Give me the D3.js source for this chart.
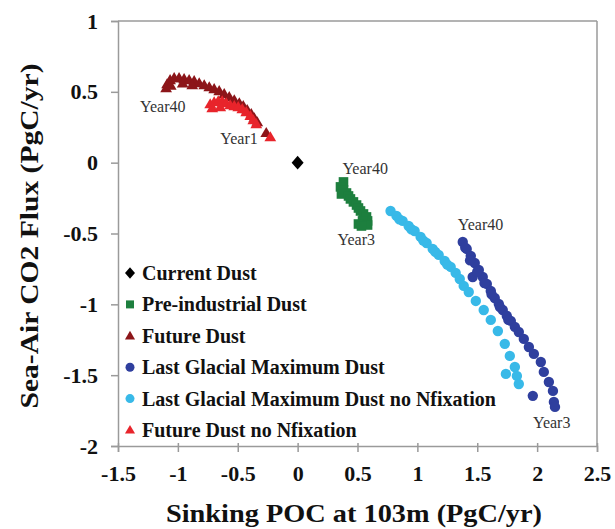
<!DOCTYPE html>
<html>
<head>
<meta charset="utf-8">
<script src="https://cdn.jsdelivr.net/npm/d3@7"></script>
<style>
  html, body { margin: 0; padding: 0; background: #fff; }
  svg { display: block; }
</style>
</head>
<body>
<svg id="chart" width="615" height="529"></svg>
<script>
// ---------------- DATA ----------------
const xTickValues = [-1.5, -1, -0.5, 0, 0.5, 1, 1.5, 2, 2.5];
const yTickValues = [-2, -1.5, -1, -0.5, 0, 0.5, 1];

const seriesNames = [
  "Current Dust",
  "Pre-industrial Dust",
  "Future Dust",
  "Last Glacial Maximum Dust",
  "Last Glacial Maximum Dust no Nfixation",
  "Future Dust no Nfixation"
];

// [Sinking POC, Sea-Air CO2 flux]
const currentDust = [[0, 0]];

const preindustrialDust = [
  [0.383, -0.136], [0.358, -0.171], [0.383, -0.193], [0.408, -0.214], [0.366, -0.221],
  [0.425, -0.235], [0.441, -0.256], [0.466, -0.277], [0.492, -0.299], [0.508, -0.320],
  [0.525, -0.341], [0.550, -0.362], [0.575, -0.383], [0.584, -0.411], [0.542, -0.411],
  [0.508, -0.433], [0.584, -0.440], [0.533, -0.447]
];

const futureDust = [
  [-1.098, 0.527], [-1.090, 0.555], [-1.065, 0.584], [-1.031, 0.598], [-0.990, 0.598],
  [-0.948, 0.591], [-0.906, 0.584], [-0.864, 0.577], [-0.822, 0.562], [-0.780, 0.548],
  [-0.738, 0.534], [-0.697, 0.520], [-0.655, 0.506], [-0.613, 0.485], [-0.571, 0.464],
  [-0.529, 0.442], [-0.487, 0.421], [-0.454, 0.400], [-0.421, 0.372], [-0.387, 0.344],
  [-0.362, 0.315], [-0.337, 0.287], [-0.262, 0.210], [-1.060, 0.545], [-0.960, 0.560],
  [-0.880, 0.548]
];

const lgmDust = [
  [1.379, -0.560], [1.412, -0.609], [1.446, -0.658], [1.479, -0.708], [1.513, -0.757],
  [1.546, -0.807], [1.580, -0.856], [1.613, -0.905], [1.646, -0.955], [1.680, -0.997],
  [1.713, -1.040], [1.747, -1.082], [1.780, -1.117], [1.814, -1.159], [1.847, -1.195],
  [1.889, -1.244], [1.931, -1.301], [1.973, -1.350], [2.031, -1.407], [2.056, -1.477],
  [2.098, -1.548], [2.132, -1.611], [2.140, -1.689], [2.149, -1.724], [1.964, -1.646],
  [1.462, -0.807], [1.400, -0.600], [1.440, -0.690], [1.500, -0.770], [1.560, -0.850],
  [1.620, -0.930], [1.690, -1.020], [1.760, -1.110]
];

const lgmDustNoNfix = [
  [0.776, -0.341], [0.826, -0.376], [0.877, -0.411], [0.927, -0.447], [0.977, -0.482],
  [1.027, -0.524], [1.077, -0.567], [1.128, -0.609], [1.178, -0.651], [1.228, -0.694],
  [1.278, -0.736], [1.320, -0.778], [1.354, -0.821], [1.387, -0.870], [1.429, -0.913],
  [1.488, -0.976], [1.554, -1.040], [1.613, -1.110], [1.672, -1.188], [1.730, -1.279],
  [1.772, -1.364], [1.814, -1.442], [1.739, -1.491], [1.831, -1.505], [1.847, -1.562],
  [0.850, -0.400], [0.950, -0.470], [1.050, -0.550], [1.150, -0.630], [1.250, -0.720]
];

const futureDustNoNfix = [
  [-0.730, 0.414], [-0.697, 0.428], [-0.663, 0.435], [-0.630, 0.435], [-0.596, 0.421],
  [-0.563, 0.407], [-0.529, 0.400], [-0.496, 0.393], [-0.462, 0.379], [-0.429, 0.358],
  [-0.395, 0.330], [-0.370, 0.301], [-0.345, 0.273], [-0.228, 0.181], [-0.713, 0.386],
  [-0.646, 0.393]
];

// Annotation labels: [text, x, y]
const yearLabels = [
  ["Year40", -1.316, 0.358],
  ["Year1", -0.646, 0.132],
  ["Year40", 0.374, -0.08],
  ["Year3", 0.333, -0.581],
  ["Year40", 1.337, -0.475],
  ["Year3", 1.965, -1.872]
];

// ---------------- STYLE ----------------
const seriesData = [currentDust, preindustrialDust, futureDust, lgmDust, lgmDustNoNfix, futureDustNoNfix];
const seriesColor = ["#000000", "#1d7f3e", "#8c1519", "#2f3f9e", "#38b9e8", "#e8242b"];
const seriesShape = ["diamond", "square", "triangle", "circle", "circle", "triangle"];

const svg = d3.select("#chart");
const x = d3.scaleLinear().domain([-1.5, 2.5]).range([118, 597]);
const y = d3.scaleLinear().domain([-2, 1]).range([446, 21]);

const serif = "Liberation Serif";
const axisColor = "#9a9a9a";

// frame (top/right)
svg.append("line").attr("x1", x(-1.5)).attr("x2", x(2.5)).attr("y1", y(1)).attr("y2", y(1))
  .attr("stroke", axisColor).attr("stroke-width", 1.5);
svg.append("line").attr("x1", x(2.5)).attr("x2", x(2.5)).attr("y1", y(1)).attr("y2", y(-2))
  .attr("stroke", axisColor).attr("stroke-width", 1.5);

// axes
const xAxis = svg.append("g").attr("transform", `translate(0,${y(-2)})`)
  .call(d3.axisBottom(x).tickValues(xTickValues).tickSize(6).tickPadding(13).tickFormat(d => String(d)));
xAxis.selectAll(".tick line").attr("y1", -3);
const yAxis = svg.append("g").attr("transform", `translate(${x(-1.5)},0)`)
  .call(d3.axisLeft(y).tickValues(yTickValues).tickSize(7).tickPadding(13).tickFormat(d => String(d)));

[xAxis, yAxis].forEach(g => {
  g.attr("font-family", serif).attr("font-size", 22).attr("font-weight", "bold");
  g.select(".domain").attr("stroke", axisColor).attr("stroke-width", 1.5);
  g.selectAll(".tick line").attr("stroke", axisColor).attr("stroke-width", 1.5);
  g.selectAll(".tick text").attr("fill", "#111")
    .attr("font-family", serif).attr("font-weight", "bold").attr("font-size", 22);
});
xAxis.selectAll(".tick text").attr("dy", "0.71em");

// symbol drawing
function symbolPath(shape, s) {
  if (shape === "diamond") return `M0,${-s*1.15}L${s},0L0,${s*1.15}L${-s},0Z`;
  if (shape === "square") return `M${-s},${-s}H${s}V${s}H${-s}Z`;
  return `M0,${-s*1.05}L${s*1.05},${s*0.75}L${-s*1.05},${s*0.75}Z`;
}
function drawMarks(g, shape, color, pts, s) {
  if (shape === "circle") {
    g.selectAll("circle").data(pts).join("circle")
      .attr("cx", d => x(d[0])).attr("cy", d => y(d[1])).attr("r", s).attr("fill", color);
  } else {
    g.selectAll("path").data(pts).join("path")
      .attr("transform", d => `translate(${x(d[0])},${y(d[1])})`)
      .attr("d", symbolPath(shape, s)).attr("fill", color);
  }
}
const markSize = { diamond: 6, square: 4.8, triangle: 5.6, circle: 5.2 };
seriesData.forEach((pts, i) => {
  const g = svg.append("g");
  drawMarks(g, seriesShape[i], seriesColor[i], pts, markSize[seriesShape[i]]);
});

// year labels
svg.append("g").selectAll("text").data(yearLabels).join("text")
  .attr("x", d => x(d[1])).attr("y", d => y(d[2])).text(d => d[0])
  .attr("font-family", serif).attr("font-size", 16).attr("fill", "#333");

// legend
const legendSize = { diamond: 5, square: 4, triangle: 4.8, circle: 4.5 };
const leg = svg.append("g");
seriesNames.forEach((name, i) => {
  const cy = 273 + i * 31.4;
  const g = leg.append("g").attr("transform", `translate(130,${cy})`);
  const s = legendSize[seriesShape[i]];
  if (seriesShape[i] === "circle") {
    g.append("circle").attr("r", s).attr("fill", seriesColor[i]);
  } else {
    g.append("path").attr("d", symbolPath(seriesShape[i], s)).attr("fill", seriesColor[i]);
  }
  g.append("text").attr("x", 12).attr("dy", "0.35em").text(name)
    .attr("font-family", serif).attr("font-weight", "bold").attr("font-size", 20).attr("fill", "#111");
});

// axis titles
svg.append("text").attr("x", 354).attr("y", 522).attr("text-anchor", "middle")
  .text("Sinking POC at 103m (PgC/yr)")
  .attr("font-family", serif).attr("font-weight", "bold").attr("font-size", 26).attr("fill", "#111")
  .attr("textLength", 376).attr("lengthAdjust", "spacingAndGlyphs");
svg.append("text").attr("transform", "translate(38,236) rotate(-90)").attr("text-anchor", "middle")
  .text("Sea-Air CO2 Flux (PgC/yr)")
  .attr("font-family", serif).attr("font-weight", "bold").attr("font-size", 25).attr("fill", "#111")
  .attr("textLength", 345).attr("lengthAdjust", "spacingAndGlyphs");
</script>
</body>
</html>
